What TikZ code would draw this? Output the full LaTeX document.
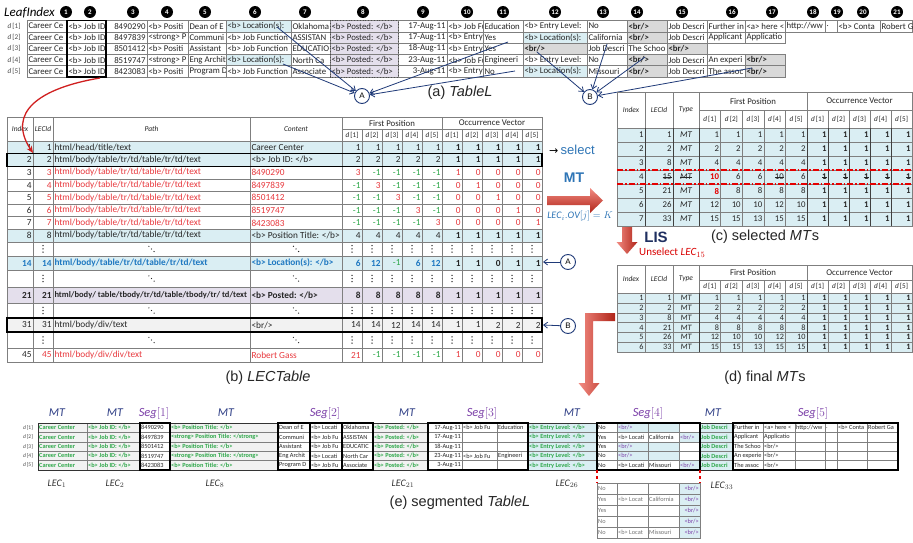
\documentclass[tikz,border=0pt]{standalone}
\usepackage{fontspec}
\setmainfont{Carlito}
\newfontfamily\arial{Liberation Sans}
\newfontfamily\djv{DejaVu Sans}
\usetikzlibrary{arrows.meta}
\newcommand\strk[1]{\setbox0\hbox{#1}\rlap{\rule[0.25em]{\wd0}{0.5pt}}\box0}
\definecolor{lblue}{HTML}{DAEEF3}
\definecolor{lpurp}{HTML}{E4DFEC}
\definecolor{lgrayA}{HTML}{D9D9D9}
\definecolor{lgrayB}{HTML}{F2F2F2}
\definecolor{tred}{HTML}{E8383D}
\definecolor{tgreen}{HTML}{2EA84A}
\definecolor{tblue}{HTML}{1F78C1}
\definecolor{navy}{HTML}{1F3A78}
\definecolor{segp}{HTML}{7B3FA8}
\definecolor{mtblue}{HTML}{2F3F86}
\definecolor{selblue}{HTML}{2E75B6}
\definecolor{lisnavy}{HTML}{1F2F60}
\definecolor{gridc}{HTML}{7F7F7F}
\definecolor{txt}{HTML}{262626}
\definecolor{arrL}{HTML}{F28B82}
\definecolor{arrD}{HTML}{B02418}
\definecolor{curvred}{HTML}{D01F1F}
\tikzset{
  fW/.style={draw=gridc, line width=0.4pt, fill=white},
  fB/.style={draw=gridc, line width=0.4pt, fill=lblue},
  fP/.style={draw=gridc, line width=0.4pt, fill=lpurp},
  fG/.style={draw=gridc, line width=0.4pt, fill=lgrayA},
  fL/.style={draw=gridc, line width=0.4pt, fill=lgrayB},
  cb/.style={inner xsep=1.3pt, inner ysep=0pt, text=txt},
  aN/.style={cb, font=\fontsize{8.8}{9}\selectfont},
  aB/.style={cb, font=\fontsize{8.8}{9}\selectfont\bfseries},
  bN/.style={cb, font=\fontsize{9.3}{10}\selectfont},
  bR/.style={bN, text=tred},
  bG/.style={bN, text=tgreen},
  bBl/.style={cb, font=\fontsize{9.3}{10}\selectfont\bfseries, text=tblue},
  bO/.style={cb, font=\fontsize{9.3}{10}\selectfont\bfseries},
  bP/.style={cb, font=\fontsize{8.5}{10}\selectfont\bfseries},
  hI/.style={cb, font=\fontsize{7.5}{8}\selectfont\itshape},
  hN/.style={cb, font=\fontsize{8.8}{9}\selectfont},
  hD/.style={cb, font=\fontsize{7.2}{8}\selectfont},
  cN/.style={cb, font=\fontsize{8.8}{9}\selectfont},
  cI/.style={cb, font=\fontsize{8.8}{9}\selectfont\itshape},
  cO/.style={cb, font=\fontsize{8.8}{9}\selectfont\bfseries},
  cRd/.style={cb, font=\fontsize{8.8}{9}\selectfont\bfseries, text=red!90!black},
  dN/.style={cb, font=\fontsize{8.2}{9}\selectfont},
  dI/.style={cb, font=\fontsize{8.2}{9}\selectfont\itshape},
  dO/.style={cb, font=\fontsize{8.2}{9}\selectfont\bfseries},
  eN/.style={cb, inner xsep=1pt, font=\fontsize{6.3}{7}\selectfont},
  eG/.style={cb, inner xsep=1pt, font=\fontsize{6.3}{7}\selectfont\bfseries, text=tgreen},
  eP/.style={cb, inner xsep=1pt, font=\fontsize{6.3}{7}\selectfont, text=segp},
  gN/.style={cb, inner xsep=1pt, font=\fontsize{6.3}{7}\selectfont, text=black!55},
  gP/.style={cb, inner xsep=1pt, font=\fontsize{6.3}{7}\selectfont, text=segp},
  dl/.style={inner sep=0pt, text=black!70, font=\fontsize{7.2}{8}\selectfont},
  dle/.style={inner sep=0pt, text=black!70, font=\fontsize{5.5}{6}\selectfont},
  numc/.style={circle, fill=black, text=white, inner sep=0pt, minimum size=12pt, font=\fontsize{7}{7}\selectfont\bfseries},
  capt/.style={inner sep=0pt, font=\arial\fontsize{14.5}{16}\selectfont, text=black!85},
  circ/.style={circle, draw=navy, line width=0.9pt, fill=white, minimum size=15pt, inner sep=0pt, font=\arial\fontsize{8}{8}\selectfont},
  navarr/.style={draw=navy, line width=0.8pt, -{Straight Barb[length=4pt,width=6pt]}},
  mtl/.style={inner sep=0pt, text=mtblue, font=\fontsize{12}{13}\selectfont},
  segl/.style={inner sep=0pt, text=segp, font=\fontsize{12.5}{13}\selectfont},
  lecl/.style={inner sep=0pt, text=black!80, font=\fontsize{10}{11}\selectfont},
  thick1/.style={draw=black, line width=1.2pt},
  dotc/.style={fill=txt},
}
\def\anchl{west}\def\anchr{east}\def\anchc{center}
\def\colA{{27,67,106,147,188,226,291,330,398,447,483,523,587,627,667,707,745,785,825,837,880,912}}
\def\colB{{7,33,53,250,342,362,382,402,422,442,462,482,502,522,542}}
\def\colBd{{342,362,382,402,422,442,462,482,502,522,542}}
\def\colC{{617,645,673,699,720.6,742.2,763.8,785.4,807,828,849,870,891,912}}
\def\colCd{{699,720.6,742.2,763.8,785.4,807,828,849,870,891,912}}
\def\colE{{38,87,140,170,278,310,342,373,428,462,497,528,597,617,648,679,700,733,763,795,825,837,867,898}}
\def\colF{{597,617,648,679,700}}
\def\bpath{html/body/table/tr/td/table/tr/td/text}
\newcommand\trow[5]{%
  \pgfmathsetmacro\ymid{(#3+#4)/2}%
  \foreach \F/\T/\A/\txt [count=\ci] in {#5}{%
    \pgfmathsetmacro\xa{#2[\ci-1]}%
    \pgfmathsetmacro\xb{#2[\ci]}%
    \path[\F] (\xa,#3) rectangle (\xb,#4);
    \coordinate (pl) at (\xa,\ymid);
    \coordinate (pr) at (\xb,\ymid);
    \coordinate (pc) at ({(\xa+\xb)/2},\ymid);
    \edef\anc{\csname anch\A\endcsname}%
    \begin{scope}
    \clip (\xa,#3) rectangle (\xb,#4);
    \node[\T, anchor=\anc] (#1-\ci) at (p\A) {\txt};
    \end{scope}
  }}
\newcommand\hcell[7]{\path[fW] (#2,#3) rectangle (#4,#5); \node[#6] (#1) at ({(#2+#4)/2},{(#3+#5)/2}) {#7};}
% a row of continuation dots in the LECTable
\newcommand\dotrow[2]{%
  \foreach \xa/\xb in {7/33,33/53,53/250,250/342,342/362,362/382,382/402,402/422,422/442,442/462,462/482,482/502,502/522,522/542}
    \path[fW] (\xa,#1) rectangle (\xb,#2);
  \pgfmathsetmacro\ym{(#1+#2)/2}%
  \foreach \x in {43,352,372,392,412,432,452,472,492,512,532}{%
    \fill[dotc] (\x,\ym-3.2) circle (0.75);
    \fill[dotc] (\x,\ym) circle (0.75);
    \fill[dotc] (\x,\ym+3.2) circle (0.75);}
  \foreach \x in {151.5,296}{%
    \fill[dotc] (\x-2.6,\ym-2.6) circle (0.65);
    \fill[dotc] (\x,\ym) circle (0.65);
    \fill[dotc] (\x+2.6,\ym+2.6) circle (0.65);}
}
\begin{document}
\begin{tikzpicture}[x=1pt,y=-1pt]
\useasboundingbox (0,0) rectangle (913,543);
\fill[white] (0,0) rectangle (913,543);
% ================= (a) TableL =================
\node[inner sep=0pt, anchor=west, font=\fontsize{13}{14}\selectfont\itshape] (leaf) at (4,13) {LeafIndex};
\foreach \n/\x in {1/66,2/90,3/133,4/167,5/205,6/255,7/305,8/363,9/423,10/467,11/503,12/555,13/603,14/637,15/682,16/732,17/772,18/813,19/837,20/863,21/897}
  \node[numc] (n\n) at (\x,12) {\n};
\foreach \i/\y in {1/26.15,2/37.45,3/48.75,4/60.05,5/71.35}
  \node[dl] (ad\i) at (14,\y) {\textit{d}\,[\i]};
\trow{a1}{\colA}{20.5}{31.8}{fW/aN/l/{Career Ce},fW/aN/l/{<b> Job ID},fW/aN/r/8490290,fW/aN/l/{<b> Positi},fW/aN/l/{Dean of E},fB/aN/l/{<b> Location(s):},fW/aN/l/Oklahoma,fP/aN/l/{<b> Posted: </b>},fW/aN/r/{17-Aug-11},fW/aN/l/{<b> Job Fu},fW/aN/l/Education,fW/aN/l/{<b> Entry Level:},fW/aN/l/No,fG/aB/l/{<br/>},fW/aN/l/{Job Descri},fW/aN/l/{Further in},fW/aN/l/{<a> here <},fW/aN/l/{http://ww},fW/aN/l/{.},fW/aN/l/{<b> Conta},fW/aN/l/{Robert G}}
\trow{a2}{\colA}{31.8}{43.1}{fW/aN/l/{Career Ce},fW/aN/l/{<b> Job ID},fW/aN/r/8497839,fW/aN/l/{<strong> P},fW/aN/l/{Communi},fW/aN/l/{<b> Job Function},fW/aN/l/{ASSISTAN},fP/aN/l/{<b> Posted: </b>},fW/aN/r/{17-Aug-11},fW/aN/l/{<b> Entry},fW/aN/l/Yes,fB/aN/l/{<b> Location(s):},fW/aN/l/California,fG/aB/l/{<br/>},fW/aN/l/{Job Descri},fW/aN/l/{Applicant},fW/aN/l/{Applicatio}}
\trow{a3}{\colA}{43.1}{54.4}{fW/aN/l/{Career Ce},fW/aN/l/{<b> Job ID},fW/aN/r/8501412,fW/aN/l/{<b> Positi},fW/aN/l/{Assistant},fW/aN/l/{<b> Job Function},fW/aN/l/{EDUCATIO},fP/aN/l/{<b> Posted: </b>},fW/aN/r/{18-Aug-11},fW/aN/l/{<b> Entry},fW/aN/l/Yes,fG/aB/l/{<br/>},fW/aN/l/{Job Descri},fW/aN/l/{The Schoo},fG/aB/l/{<br/>}}
\trow{a4}{\colA}{54.4}{65.7}{fW/aN/l/{Career Ce},fW/aN/l/{<b> Job ID},fW/aN/r/8519747,fW/aN/l/{<strong> P},fW/aN/l/{Eng Archit},fB/aN/l/{<b> Location(s):},fW/aN/l/{North Ca},fP/aN/l/{<b> Posted: </b>},fW/aN/r/{23-Aug-11},fW/aN/l/{<b> Job Fu},fW/aN/l/Engineeri,fW/aN/l/{<b> Entry Level:},fW/aN/l/No,fG/aB/l/{<br/>},fW/aN/l/{Job Descri},fW/aN/l/{An experi},fG/aB/l/{<br/>}}
\trow{a5}{\colA}{65.7}{77}{fW/aN/l/{Career Ce},fW/aN/l/{<b> Job ID},fW/aN/r/8423083,fW/aN/l/{<b> Positi},fW/aN/l/{Program D},fW/aN/l/{<b> Job Function},fW/aN/l/{Associate},fP/aN/l/{<b> Posted: </b>},fW/aN/r/{3-Aug-11},fW/aN/l/{<b> Entry},fW/aN/l/No,fB/aN/l/{<b> Location(s):},fW/aN/l/Missouri,fG/aB/l/{<br/>},fW/aN/l/{Job Descri},fW/aN/l/{The assoc},fG/aB/l/{<br/>}}
\draw[thick1] (67,20.5) rectangle (106,77);
\draw[dotted, line width=0.8pt, black!70] (330,20.5) rectangle (398,77);
\node[capt] (capa) at (460,93) {(a) \textit{TableL}};
\node[circ] (A) at (362,96) {A};
\node[circ] (B) at (590,97) {B};
\coordinate (tA1) at (277,27); \coordinate (tA2) at (283,64);
\coordinate (tA3) at (508,42); \coordinate (tA4) at (515,71);
\coordinate (tB1) at (537,52); \coordinate (tB2) at (607,44);
\coordinate (tB3) at (645,57); \coordinate (tB4) at (752,68);
\foreach \t in {tA1,tA2,tA3,tA4} \draw[navarr] (\t) -- (A);
\foreach \t in {tB1,tB2,tB3,tB4} \draw[navarr] (\t) -- (B);
% ================= (b) LECTable =================
\hcell{bhi}{7}{117}{33}{141}{hI}{Index}
\hcell{bhl}{33}{117}{53}{141}{hI}{LECId}
\hcell{bhp}{53}{117}{250}{141}{hI}{Path}
\hcell{bhc}{250}{117}{342}{141}{hI}{Content}
\hcell{bhf}{342}{117}{442}{129}{hN}{First Position}
\hcell{bho}{442}{117}{542}{129}{hN}{Occurrence Vector}
\trow{bhd}{\colBd}{129}{141}{fW/hD/c/{\textit{d}\,[1]},fW/hD/c/{\textit{d}\,[2]},fW/hD/c/{\textit{d}\,[3]},fW/hD/c/{\textit{d}\,[4]},fW/hD/c/{\textit{d}\,[5]},fW/hD/c/{\textit{d}\,[1]},fW/hD/c/{\textit{d}\,[2]},fW/hD/c/{\textit{d}\,[3]},fW/hD/c/{\textit{d}\,[4]},fW/hD/c/{\textit{d}\,[5]}}
\trow{b1}{\colB}{141}{153.6}{fB/bN/r/1,fB/bN/r/1,fB/bN/l/{html/head/title/text},fB/bN/l/{Career Center},fB/bN/r/1,fB/bN/r/1,fB/bN/r/1,fB/bN/r/1,fB/bN/r/1,fB/bO/r/1,fB/bO/r/1,fB/bO/r/1,fB/bO/r/1,fB/bO/r/1}
\trow{b2}{\colB}{153.6}{166.2}{fB/bN/r/2,fB/bN/r/2,fB/bN/l/{\bpath},fB/bN/l/{<b> Job ID: </b>},fB/bN/r/2,fB/bN/r/2,fB/bN/r/2,fB/bN/r/2,fB/bN/r/2,fB/bO/r/1,fB/bO/r/1,fB/bO/r/1,fB/bO/r/1,fB/bO/r/1}
\trow{b3}{\colB}{166.2}{178.8}{fW/bN/r/3,fW/bR/r/3,fW/bR/l/{\bpath},fW/bR/l/8490290,fW/bR/r/3,fW/bG/r/-1,fW/bG/r/-1,fW/bG/r/-1,fW/bG/r/-1,fW/bR/r/1,fW/bR/r/0,fW/bR/r/0,fW/bR/r/0,fW/bR/r/0}
\trow{b4}{\colB}{178.8}{191.4}{fW/bN/r/4,fW/bR/r/4,fW/bR/l/{\bpath},fW/bR/l/8497839,fW/bG/r/-1,fW/bR/r/3,fW/bG/r/-1,fW/bG/r/-1,fW/bG/r/-1,fW/bR/r/0,fW/bR/r/1,fW/bR/r/0,fW/bR/r/0,fW/bR/r/0}
\trow{b5}{\colB}{191.4}{204}{fW/bN/r/5,fW/bR/r/5,fW/bR/l/{\bpath},fW/bR/l/8501412,fW/bG/r/-1,fW/bG/r/-1,fW/bR/r/3,fW/bG/r/-1,fW/bG/r/-1,fW/bR/r/0,fW/bR/r/0,fW/bR/r/1,fW/bR/r/0,fW/bR/r/0}
\trow{b6}{\colB}{204}{216.6}{fW/bN/r/6,fW/bR/r/6,fW/bR/l/{\bpath},fW/bR/l/8519747,fW/bG/r/-1,fW/bG/r/-1,fW/bG/r/-1,fW/bR/r/3,fW/bG/r/-1,fW/bR/r/0,fW/bR/r/0,fW/bR/r/0,fW/bR/r/1,fW/bR/r/0}
\trow{b7}{\colB}{216.6}{229.2}{fW/bN/r/7,fW/bR/r/7,fW/bR/l/{\bpath},fW/bR/l/8423083,fW/bG/r/-1,fW/bG/r/-1,fW/bG/r/-1,fW/bG/r/-1,fW/bR/r/3,fW/bR/r/0,fW/bR/r/0,fW/bR/r/0,fW/bR/r/0,fW/bR/r/1}
\trow{b8}{\colB}{229.2}{241.8}{fB/bN/r/8,fB/bN/r/8,fB/bN/l/{\bpath},fB/bN/l/{<b> Position Title: </b>},fB/bN/r/4,fB/bN/r/4,fB/bN/r/4,fB/bN/r/4,fB/bN/r/4,fB/bO/r/1,fB/bO/r/1,fB/bO/r/1,fB/bO/r/1,fB/bO/r/1}
\dotrow{241.8}{256}
\trow{b14}{\colB}{256}{270}{fB/bBl/r/14,fB/bBl/r/14,fB/bBl/l/{\bpath},fB/bBl/l/{<b> Location(s): </b>},fB/bBl/r/6,fB/bBl/r/12,fB/bG/r/-1,fB/bBl/r/6,fB/bBl/r/12,fB/bO/r/1,fB/bO/r/1,fB/bO/r/0,fB/bO/r/1,fB/bO/r/1}
\dotrow{270}{287}
\trow{b21}{\colB}{287}{303}{fP/bO/r/21,fP/bO/r/21,fP/bP/l/{html/body/ table/tbody/tr/td/table/tbody/tr/ td/text},fP/bO/l/{<b> Posted: </b>},fP/bO/r/8,fP/bO/r/8,fP/bO/r/8,fP/bO/r/8,fP/bO/r/8,fP/bO/r/1,fP/bO/r/1,fP/bO/r/1,fP/bO/r/1,fP/bO/r/1}
\dotrow{303}{318}
\trow{b31}{\colB}{318}{332}{fL/bN/r/31,fL/bN/r/31,fL/bN/l/{html/body/div/text},fL/bN/l/{<br/>},fL/bN/r/14,fL/bN/r/14,fL/bN/r/12,fL/bN/r/14,fL/bN/r/14,fL/bN/r/1,fL/bN/r/1,fL/bN/r/2,fL/bN/r/2,fL/bN/r/2}
\dotrow{332}{348}
\trow{b45}{\colB}{348}{362}{fW/bN/r/45,fW/bR/r/45,fW/bR/l/{html/body/div/div/text},fW/bR/l/{Robert Gass},fW/bR/r/21,fW/bG/r/-1,fW/bG/r/-1,fW/bG/r/-1,fW/bG/r/-1,fW/bR/r/1,fW/bR/r/0,fW/bR/r/0,fW/bR/r/0,fW/bR/r/0}
\draw[thick1] (7,153.6) rectangle (542,166.2);
\draw[thick1] (7,318) rectangle (542,332);
\node[capt] (capb) at (268,378) {(b) \textit{LECTable}};
% red curved arrow
\coordinate (rcs) at (100,78); \coordinate (rce) at (33,153);
\draw[draw=curvred, line width=1.3pt, -{Stealth[length=7pt,width=6pt]}] (rcs) .. controls (40,88) and (6,112) .. (rce);
% A, B beside LECTable
\node[circ] (A2) at (568,262) {A};
\node[circ] (B2) at (568,326) {B};
\coordinate (eA) at (543,262); \coordinate (eB) at (543,325);
\draw[navarr] (A2) -- (eA);
\draw[navarr] (B2) -- (eB);
% select, MT arrow
\node[inner sep=0pt, anchor=west] (sel) at (549,150) {{\djv\fontsize{11}{12}\selectfont →}\ {\arial\fontsize{13}{14}\selectfont\color{selblue}select}};
\node[inner sep=0pt, text=selblue, font=\arial\bfseries\fontsize{14}{15}\selectfont] (mtlab) at (574,178) {MT};
\path[top color=arrL, bottom color=arrD] (547,196) -- (590,196) -- (590,188) -- (603,200.5) -- (590,213) -- (590,205) -- (547,205) -- cycle;
\node[inner sep=0pt, text=selblue, font=\fontsize{10}{11}\selectfont] (lecov) at (580,216) {$\mathit{LEC}_i.\mathit{OV}[j]=K$};
% ================= (c) selected MTs =================
\hcell{chi}{617}{92}{645}{128}{hI}{Index}
\hcell{chl}{645}{92}{673}{128}{hI}{LECId}
\hcell{cht}{673}{92}{699}{128}{hI}{Type}
\hcell{chf}{699}{92}{807}{110}{hN}{First Position}
\hcell{cho}{807}{92}{912}{110}{hN}{Occurrence Vector}
\trow{chd}{\colCd}{110}{128}{fW/hD/c/{\textit{d}\,[1]},fW/hD/c/{\textit{d}\,[2]},fW/hD/c/{\textit{d}\,[3]},fW/hD/c/{\textit{d}\,[4]},fW/hD/c/{\textit{d}\,[5]},fW/hD/c/{\textit{d}\,[1]},fW/hD/c/{\textit{d}\,[2]},fW/hD/c/{\textit{d}\,[3]},fW/hD/c/{\textit{d}\,[4]},fW/hD/c/{\textit{d}\,[5]}}
\trow{c1}{\colC}{128}{142}{fB/cN/r/1,fB/cN/r/1,fB/cI/c/MT,fB/cN/r/1,fB/cN/r/1,fB/cN/r/1,fB/cN/r/1,fB/cN/r/1,fB/cO/r/1,fB/cO/r/1,fB/cO/r/1,fB/cO/r/1,fB/cO/r/1}
\trow{c2}{\colC}{142}{156}{fB/cN/r/2,fB/cN/r/2,fB/cI/c/MT,fB/cN/r/2,fB/cN/r/2,fB/cN/r/2,fB/cN/r/2,fB/cN/r/2,fB/cO/r/1,fB/cO/r/1,fB/cO/r/1,fB/cO/r/1,fB/cO/r/1}
\trow{c3}{\colC}{156}{170}{fB/cN/r/3,fB/cN/r/8,fB/cI/c/MT,fB/cN/r/4,fB/cN/r/4,fB/cN/r/4,fB/cN/r/4,fB/cN/r/4,fB/cO/r/1,fB/cO/r/1,fB/cO/r/1,fB/cO/r/1,fB/cO/r/1}
\trow{c4}{\colC}{170}{184}{fB/cN/r/4,fB/cN/r/{\strk{15}},fB/cI/c/{\strk{MT}},fB/cRd/r/10,fB/cN/r/6,fB/cN/r/6,fB/cN/r/{\strk{10}},fB/cN/r/6,fB/cO/r/{\strk{1}},fB/cO/r/{\strk{1}},fB/cO/r/{\strk{1}},fB/cO/r/{\strk{1}},fB/cO/r/{\strk{1}}}
\trow{c5}{\colC}{184}{198}{fB/cN/r/5,fB/cN/r/21,fB/cI/c/MT,fB/cRd/r/8,fB/cN/r/8,fB/cN/r/8,fB/cN/r/8,fB/cN/r/8,fB/cO/r/1,fB/cO/r/1,fB/cO/r/1,fB/cO/r/1,fB/cO/r/1}
\trow{c6}{\colC}{198}{212}{fB/cN/r/6,fB/cN/r/26,fB/cI/c/MT,fB/cN/r/12,fB/cN/r/10,fB/cN/r/10,fB/cN/r/12,fB/cN/r/10,fB/cO/r/1,fB/cO/r/1,fB/cO/r/1,fB/cO/r/1,fB/cO/r/1}
\trow{c7}{\colC}{212}{226}{fB/cN/r/7,fB/cN/r/33,fB/cI/c/MT,fB/cN/r/15,fB/cN/r/15,fB/cN/r/13,fB/cN/r/15,fB/cN/r/15,fB/cO/r/1,fB/cO/r/1,fB/cO/r/1,fB/cO/r/1,fB/cO/r/1}
\foreach \x in {645,673,699,807,828,849,870,891} \draw[black!75, line width=0.8pt] (\x,128) -- (\x,226);
\draw[red!90!black, line width=1.1pt, dash pattern=on 6pt off 2pt on 1.5pt off 2pt] (617,170) -- (912,170);
\draw[red!90!black, line width=1.1pt, dash pattern=on 6pt off 2pt on 1.5pt off 2pt] (617,184) -- (912,184);
\node[capt] (capc) at (765,237) {(c) selected \textit{MT}s};
% LIS arrow
\path[left color=arrL, right color=arrD] (622,227) -- (632,227) -- (632,242) -- (637.5,242) -- (627,254) -- (616.5,242) -- (622,242) -- cycle;
\node[inner sep=0pt, text=lisnavy, font=\arial\bfseries\fontsize{15}{16}\selectfont] (lis) at (656,237) {LIS};
\node[inner sep=0pt, anchor=west, text=red!85!black, font=\fontsize{11}{12}\selectfont] (unsel) at (639,253) {Unselect $\mathit{LEC}_{15}$};
% ================= (d) final MTs =================
\hcell{dhi}{617}{265}{645}{293}{hI}{Index}
\hcell{dhl}{645}{265}{673}{293}{hI}{LECId}
\hcell{dht}{673}{265}{699}{293}{hI}{Type}
\hcell{dhf}{699}{265}{807}{280}{hN}{First Position}
\hcell{dho}{807}{265}{912}{280}{hN}{Occurrence Vector}
\trow{dhd}{\colCd}{280}{293}{fW/hD/c/{\textit{d}\,[1]},fW/hD/c/{\textit{d}\,[2]},fW/hD/c/{\textit{d}\,[3]},fW/hD/c/{\textit{d}\,[4]},fW/hD/c/{\textit{d}\,[5]},fW/hD/c/{\textit{d}\,[1]},fW/hD/c/{\textit{d}\,[2]},fW/hD/c/{\textit{d}\,[3]},fW/hD/c/{\textit{d}\,[4]},fW/hD/c/{\textit{d}\,[5]}}
\trow{d1}{\colC}{293}{302.8}{fB/dN/r/1,fB/dN/r/1,fB/dI/c/MT,fB/dN/r/1,fB/dN/r/1,fB/dN/r/1,fB/dN/r/1,fB/dN/r/1,fB/dO/r/1,fB/dO/r/1,fB/dO/r/1,fB/dO/r/1,fB/dO/r/1}
\trow{d2}{\colC}{302.8}{312.7}{fB/dN/r/2,fB/dN/r/2,fB/dI/c/MT,fB/dN/r/2,fB/dN/r/2,fB/dN/r/2,fB/dN/r/2,fB/dN/r/2,fB/dO/r/1,fB/dO/r/1,fB/dO/r/1,fB/dO/r/1,fB/dO/r/1}
\trow{d3}{\colC}{312.7}{322.5}{fB/dN/r/3,fB/dN/r/8,fB/dI/c/MT,fB/dN/r/4,fB/dN/r/4,fB/dN/r/4,fB/dN/r/4,fB/dN/r/4,fB/dO/r/1,fB/dO/r/1,fB/dO/r/1,fB/dO/r/1,fB/dO/r/1}
\trow{d4}{\colC}{322.5}{332.3}{fB/dN/r/4,fB/dN/r/21,fB/dI/c/MT,fB/dN/r/8,fB/dN/r/8,fB/dN/r/8,fB/dN/r/8,fB/dN/r/8,fB/dO/r/1,fB/dO/r/1,fB/dO/r/1,fB/dO/r/1,fB/dO/r/1}
\trow{d5}{\colC}{332.3}{342.2}{fB/dN/r/5,fB/dN/r/26,fB/dI/c/MT,fB/dN/r/12,fB/dN/r/10,fB/dN/r/10,fB/dN/r/12,fB/dN/r/10,fB/dO/r/1,fB/dO/r/1,fB/dO/r/1,fB/dO/r/1,fB/dO/r/1}
\trow{d6}{\colC}{342.2}{352}{fB/dN/r/6,fB/dN/r/33,fB/dI/c/MT,fB/dN/r/15,fB/dN/r/15,fB/dN/r/13,fB/dN/r/15,fB/dN/r/15,fB/dO/r/1,fB/dO/r/1,fB/dO/r/1,fB/dO/r/1,fB/dO/r/1}
\foreach \x in {699,807} \draw[black!75, line width=0.8pt] (\x,293) -- (\x,352);
\node[capt] (capd) at (765,378) {(d) final \textit{MT}s};
% L-shaped red arrow
\path[left color=arrL, right color=arrD] (615,313) -- (585,313) -- (585,383) -- (578.5,383) -- (589,396) -- (599.5,383) -- (593,383) -- (593,321) -- (615,321) -- cycle;
% ================= (e) segmented TableL =================
\foreach \i/\y in {1/427.7,2/437.1,3/446.5,4/455.9,5/465.3}
  \node[dle] (ed\i) at (28,\y) {\textit{d}\,[\i]};
\trow{e1}{\colE}{423}{432.4}{fL/eG/l/{Career Center},fL/eG/l/{<b> Job ID: </b>},fW/eN/l/8490290,fL/eG/l/{<b> Position Title: </b>},fW/eN/l/{Dean of E},fW/eN/l/{<b> Locati},fW/eN/l/Oklahoma,fL/eG/l/{<b> Posted: </b>},fW/eN/r/{17-Aug-11},fW/eN/l/{<b> Job Fu},fW/eN/l/Education,fB/eG/l/{<b> Entry Level: </b>},fW/eN/l/No,fB/eP/l/{<br/>},fB/eN/l/{},fW/eN/l/{},fB/eG/l/{Job Descri},fW/eN/l/{Further in},fW/eN/l/{<a> here <},fW/eN/l/{http://ww},fW/eN/l/{.},fW/eN/l/{<b> Conta},fW/eN/l/{Robert Ga}}
\trow{e2}{\colE}{432.4}{441.8}{fL/eG/l/{Career Center},fL/eG/l/{<b> Job ID: </b>},fW/eN/l/8497839,fL/eG/l/{<strong> Position Title: </strong>},fW/eN/l/{Communi},fW/eN/l/{<b> Job Fu},fW/eN/l/{ASSISTAN},fL/eG/l/{<b> Posted: </b>},fW/eN/r/{17-Aug-11},fW/eN/l/{},fW/eN/l/{},fB/eG/l/{<b> Entry Level: </b>},fW/eN/l/Yes,fW/eN/l/{<b> Locati},fW/eN/l/California,fB/eP/l/{<br/>},fB/eG/l/{Job Descri},fW/eN/l/{Applicant},fW/eN/l/{Applicatio},fW/eN/l/{},fW/eN/l/{},fW/eN/l/{},fW/eN/l/{}}
\trow{e3}{\colE}{441.8}{451.2}{fL/eG/l/{Career Center},fL/eG/l/{<b> Job ID: </b>},fW/eN/l/8501412,fL/eG/l/{<b> Position Title: </b>},fW/eN/l/{Assistant},fW/eN/l/{<b> Job Fu},fW/eN/l/{EDUCATIC},fL/eG/l/{<b> Posted: </b>},fW/eN/r/{18-Aug-11},fW/eN/l/{},fW/eN/l/{},fB/eG/l/{<b> Entry Level: </b>},fW/eN/l/Yes,fB/eP/l/{<br/>},fB/eN/l/{},fW/eN/l/{},fB/eG/l/{Job Descri},fW/eN/l/{The Schoo},fW/eN/l/{<br/>},fW/eN/l/{},fW/eN/l/{},fW/eN/l/{},fW/eN/l/{}}
\trow{e4}{\colE}{451.2}{460.6}{fL/eG/l/{Career Center},fL/eG/l/{<b> Job ID: </b>},fW/eN/l/8519747,fL/eG/l/{<strong> Position Title: </strong>},fW/eN/l/{Eng Archit},fW/eN/l/{<b> Locati},fW/eN/l/{North Car},fL/eG/l/{<b> Posted: </b>},fW/eN/r/{23-Aug-11},fW/eN/l/{<b> Job Fu},fW/eN/l/{Engineeri},fB/eG/l/{<b> Entry Level: </b>},fW/eN/l/No,fB/eP/l/{<br/>},fB/eN/l/{},fW/eN/l/{},fB/eG/l/{Job Descri},fW/eN/l/{An experie},fW/eN/l/{<br/>},fW/eN/l/{},fW/eN/l/{},fW/eN/l/{},fW/eN/l/{}}
\trow{e5}{\colE}{460.6}{470}{fL/eG/l/{Career Center},fL/eG/l/{<b> Job ID: </b>},fW/eN/l/8423083,fL/eG/l/{<b> Position Title: </b>},fW/eN/l/{Program D},fW/eN/l/{<b> Job Fu},fW/eN/l/{Associate},fL/eG/l/{<b> Posted: </b>},fW/eN/r/{3-Aug-11},fW/eN/l/{},fW/eN/l/{},fB/eG/l/{<b> Entry Level: </b>},fW/eN/l/No,fW/eN/l/{<b> Locati},fW/eN/l/Missouri,fB/eP/l/{<br/>},fB/eG/l/{Job Descri},fW/eN/l/{The assoc},fW/eN/l/{<br/>},fW/eN/l/{},fW/eN/l/{},fW/eN/l/{},fW/eN/l/{}}
\draw[black!80, line width=0.8pt] (38,423) rectangle (898,470);
\draw[thick1] (140,423) rectangle (170,470);
\draw[thick1] (278,423) rectangle (373,470);
\draw[thick1] (310,423) -- (310,470);
\draw[thick1] (342,423) -- (342,470);
\draw[thick1] (428,423) rectangle (528,470);
\draw[thick1] (597,423) rectangle (700,470);
\draw[thick1] (733,423) rectangle (898,470);
\node[mtl] (m1) at (57,413) {$\mathit{MT}$};
\node[mtl] (m2) at (115,413) {$\mathit{MT}$};
\node[segl] (s1) at (154,413) {$\mathit{Seg}[1]$};
\node[mtl] (m3) at (226,413) {$\mathit{MT}$};
\node[segl] (s2) at (325,413) {$\mathit{Seg}[2]$};
\node[mtl] (m4) at (407,413) {$\mathit{MT}$};
\node[segl] (s3) at (482,413) {$\mathit{Seg}[3]$};
\node[mtl] (m5) at (572,413) {$\mathit{MT}$};
\node[segl] (s4) at (648,413) {$\mathit{Seg}[4]$};
\node[mtl] (m6) at (713,413) {$\mathit{MT}$};
\node[segl] (s5) at (813,413) {$\mathit{Seg}[5]$};
\node[lecl] (l1) at (57,484) {$\mathit{LEC}_1$};
\node[lecl] (l2) at (115,484) {$\mathit{LEC}_2$};
\node[lecl] (l8) at (215,484) {$\mathit{LEC}_8$};
\node[lecl] (l21) at (403,484) {$\mathit{LEC}_{21}$};
\node[lecl] (l26) at (567,484) {$\mathit{LEC}_{26}$};
\node[lecl] (l33) at (722,486) {$\mathit{LEC}_{33}$};
\draw[red!90!black, line width=1.2pt, dashed] (597,470) -- (597,483);
\draw[red!90!black, line width=1.2pt, dashed] (700,470) -- (700,483);
\trow{f1}{\colF}{483}{494}{fW/gN/l/No,fW/gN/l/{},fW/gN/l/{},fB/gP/r/{<br/>}}
\trow{f2}{\colF}{494}{505}{fW/gN/l/Yes,fW/gN/l/{<b> Locat},fW/gN/l/{California},fB/gP/r/{<br/>}}
\trow{f3}{\colF}{505}{516}{fW/gN/l/Yes,fW/gN/l/{},fW/gN/l/{},fB/gP/r/{<br/>}}
\trow{f4}{\colF}{516}{527}{fW/gN/l/No,fW/gN/l/{},fW/gN/l/{},fB/gP/r/{<br/>}}
\trow{f5}{\colF}{527}{538}{fW/gN/l/No,fW/gN/l/{<b> Locat},fW/gN/l/{Missouri},fB/gP/r/{<br/>}}
\node[capt] (cape) at (460,503) {(e) segmented \textit{TableL}};
\end{tikzpicture}
\end{document}
